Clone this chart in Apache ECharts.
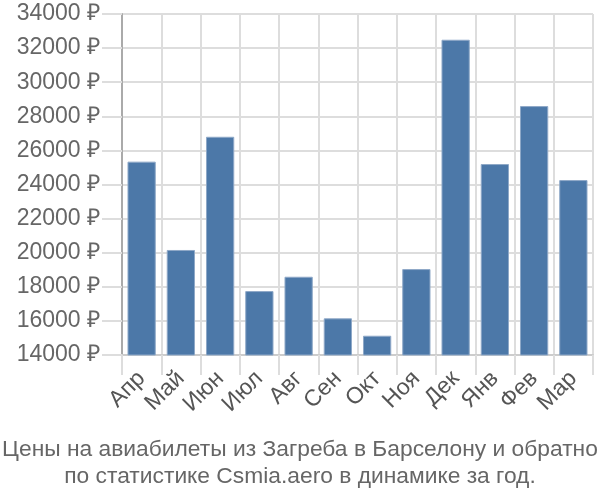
<!DOCTYPE html>
<html><head><meta charset="utf-8">
<script src="https://cdn.jsdelivr.net/npm/echarts@6/dist/echarts.min.js"></script>
<style>html,body{margin:0;padding:0;background:#fff}#c{width:600px;height:500px}</style>
</head><body><div id="c"></div>
<script>
const categories = ["Апр","Май","Июн","Июл","Авг","Сен","Окт","Ноя","Дек","Янв","Фев","Мар"];
const prices = [25340, 20160, 26800, 17750, 18590, 16150, 15130, 19040, 32490, 25200, 28600, 24260];
const yMin = 14000, yMax = 34000, yStep = 2000;
const titleLines = ["Цены на авиабилеты из Загреба в Барселону и обратно", "по статистике Csmia.aero в динамике за год."];

const chart = echarts.init(document.getElementById('c'), null, {renderer:'canvas'});
const font = 'Liberation Sans, Arial, sans-serif';
chart.setOption({
  animation:false,
  title:{text:titleLines.join('\n'), left:'center', top:431,
    textStyle:{fontFamily:font, fontSize:22.8, fontWeight:'normal', color:'#666', lineHeight:27}},
  grid:{left:122, right:7, top:14, bottom:145, containLabel:false},
  xAxis:{type:'category', data:categories,
    axisLine:{lineStyle:{color:'#ccc', width:2}},
    axisTick:{show:true, length:20, lineStyle:{color:'#ddd', width:2}},
    splitLine:{show:true, lineStyle:{color:'#ddd', width:2}},
    axisLabel:{rotate:45, fontFamily:font, fontSize:23, color:'#555', margin:20, interval:0}},
  yAxis:{type:'value', min:yMin, max:yMax, interval:yStep,
    axisLine:{show:true, lineStyle:{color:'#aaa', width:2}},
    axisTick:{show:true, length:20, lineStyle:{color:'#ddd', width:2}},
    splitLine:{lineStyle:{color:'#ddd', width:2}},
    axisLabel:{fontFamily:font, fontSize:23, color:'#666', margin:22, formatter:v=>v+' ₽'}},
  series:[{type:'bar', data:prices, barWidth:'72%',
    itemStyle:{color:'#4c78a8', borderColor:'#8fa9c8', borderWidth:1}}]
});
</script></body></html>
